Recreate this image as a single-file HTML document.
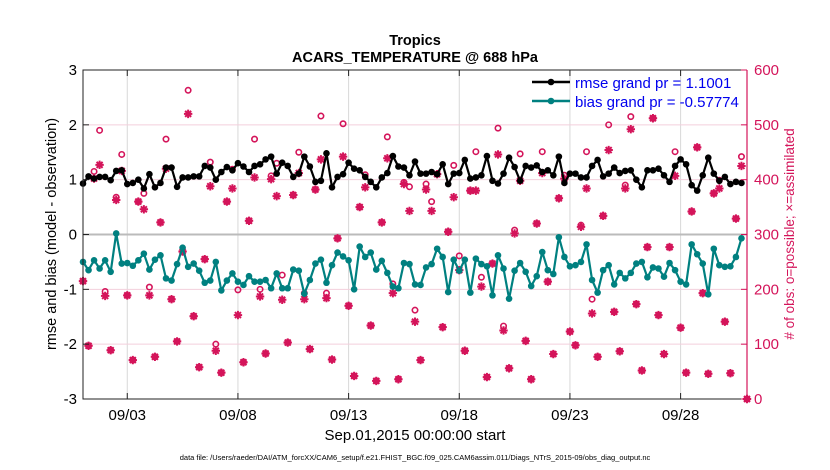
<!DOCTYPE html>
<html><head><meta charset="utf-8"><style>
html,body{margin:0;padding:0;background:#fff;}
svg{display:block;font-family:"Liberation Sans",Arial,sans-serif;}
</style></head><body>
<svg id="chart" width="830" height="470" viewBox="0 0 830 470">
<rect width="830" height="470" fill="#fff"/>
<text x="415" y="45" text-anchor="middle" font-size="14.5" font-weight="bold">Tropics</text>
<text x="415" y="62" text-anchor="middle" font-size="14.5" font-weight="bold">ACARS_TEMPERATURE @ 688 hPa</text>
<g id="grid"></g>
<g id="marks"></g>
<g id="axes"></g>
<text x="415" y="440" text-anchor="middle" font-size="15">Sep.01,2015 00:00:00 start</text>
<text x="415" y="460" text-anchor="middle" font-size="7.5">data file: /Users/raeder/DAI/ATM_forcXX/CAM6_setup/f.e21.FHIST_BGC.f09_025.CAM6assim.011/Diags_NTrS_2015-09/obs_diag_output.nc</text>
<text transform="translate(56,234) rotate(-90)" text-anchor="middle" font-size="14.5">rmse and bias (model - observation)</text>
<text transform="translate(794,234) rotate(-90)" text-anchor="middle" font-size="13.5" fill="#d4145a"># of obs: o=possible; ×=assimilated</text>
<g>
<line x1="532" y1="82" x2="570" y2="82" stroke="#000" stroke-width="2.5"/>
<circle cx="551" cy="82" r="3.3" fill="#000"/>
<text x="575" y="88" font-size="15" fill="#0000ee">rmse grand pr = 1.1001</text>
<line x1="532" y1="101" x2="570" y2="101" stroke="#008080" stroke-width="2.5"/>
<circle cx="551" cy="101" r="3.3" fill="#008080"/>
<text x="575" y="107" font-size="15" fill="#0000ee">bias grand pr = -0.57774</text>
</g>
</svg>
<script>
const rmse=[0.93,1.06,1.02,1.05,1.05,0.99,1.16,1.17,0.92,0.94,
1.0,0.84,1.1,0.86,0.94,1.22,1.22,0.87,1.04,1.04,
1.06,1.06,1.25,1.22,1.0,1.14,1.23,1.17,1.3,1.24,
1.14,1.25,1.28,1.37,1.42,1.11,1.31,1.25,1.05,1.11,
1.42,1.24,0.96,0.98,1.48,0.86,1.05,1.10,1.31,1.20,
1.17,1.05,0.96,0.86,1.04,1.12,1.43,1.24,1.22,1.08,
1.33,1.11,1.11,1.14,1.10,1.28,0.92,1.11,1.12,1.36,
1.02,1.04,1.08,1.43,0.98,0.93,1.11,1.40,1.23,0.98,
1.25,1.22,1.26,1.14,1.17,1.08,1.42,0.94,1.11,1.11,
1.04,1.04,1.25,1.36,1.06,1.11,1.22,1.12,1.16,1.17,
1.00,0.86,1.17,1.17,1.20,1.08,0.96,1.25,1.37,1.28,
0.90,0.80,1.08,1.40,1.11,0.98,1.05,0.92,0.96,0.94];
const bias=[-0.50,-0.65,-0.47,-0.62,-0.47,-0.68,0.02,-0.53,-0.52,-0.57,
-0.47,-0.35,-0.64,-0.46,-0.38,-0.80,-0.84,-0.54,-0.24,-0.59,
-0.53,-0.66,-0.88,-0.84,-0.50,-1.02,-0.84,-0.71,-0.86,-0.92,
-0.76,-0.86,-0.86,-0.83,-0.98,-0.71,-0.98,-0.98,-0.64,-0.66,
-1.08,-0.83,-0.53,-0.46,-0.88,-0.56,-0.33,-0.40,-0.47,-1.00,
-0.22,-0.41,-0.33,-0.64,-0.48,-0.70,-0.95,-0.98,-0.52,-0.54,
-0.91,-0.92,-0.60,-0.54,-0.26,-0.41,-1.05,-0.46,-0.66,-0.46,
-1.06,-0.44,-0.54,-0.58,-1.11,-0.38,-0.62,-1.17,-0.66,-0.52,
-0.68,-0.94,-0.76,-0.32,-0.65,-0.72,-0.05,-0.41,-0.58,-0.56,
-0.50,-0.18,-0.83,-1.06,-0.65,-0.56,-0.91,-0.70,-0.80,-0.70,
-0.53,-0.50,-0.78,-0.60,-0.62,-0.77,-0.52,-0.65,-0.86,-0.91,
-0.18,-0.36,-0.53,-1.09,-0.26,-0.56,-0.59,-0.58,-0.41,-0.07];
const assimilated=[215,97,402,427,188,89,363,416,189,71,
360,346,189,77,322,420,182,105,269,520,
151,58,255,388,88,48,360,384,153,67,
325,404,187,83,401,370,181,103,372,412,
182,91,382,437,184,72,293,442,170,42,
350,386,134,33,322,439,193,36,392,343,
141,71,382,343,410,131,305,368,235,88,
380,380,205,40,247,446,125,56,302,398,
106,36,320,412,214,82,366,402,123,98,
314,384,156,77,334,454,159,87,384,492,
173,52,277,512,153,82,277,407,130,48,
342,459,193,46,375,384,141,47,329,425,0];
const possible=[215,97,415,490,196,89,368,446,189,71,
360,375,204,77,322,474,182,105,269,563,
151,58,255,432,100,48,360,419,199,67,
325,474,200,83,407,430,226,103,372,450,
193,91,382,516,193,72,293,502,170,42,
350,409,134,33,322,478,210,36,395,387,
162,71,392,360,410,131,305,426,261,88,
380,451,222,40,247,494,133,56,308,447,
106,36,320,451,214,82,366,408,123,98,
317,451,182,77,334,500,159,87,390,515,
173,52,277,512,153,82,277,451,130,48,
342,459,193,46,375,399,141,47,329,442,0];
const xTickDays=[2,7,12,17,22,27];
const xTickLabels=["09/03","09/08","09/13","09/18","09/23","09/28"];
const yLeftTicks=[3,2,1,0,-1,-2,-3];
const yRightTicks=[600,500,400,300,200,100,0];

const L=83,R=747,T=70,B=399;
const NS="http://www.w3.org/2000/svg";
const xScale=d=>L+(R-L)*d/30;
const xSlot=i=>xScale(i*0.25);
const yLeft=v=>T+(B-T)*(3-v)/6;
const yRight=v=>B-(B-T)*v/600;
function mk(tag,attrs,parent){const e=document.createElementNS(NS,tag);for(const k in attrs)e.setAttribute(k,attrs[k]);parent.appendChild(e);return e;}
const grid=document.getElementById('grid'),marks=document.getElementById('marks'),axes=document.getElementById('axes');

xTickDays.forEach(d=>{const l=mk('line',{x1:xScale(d),x2:xScale(d),y1:T,y2:B,stroke:'#d8d8d8','stroke-width':1},grid);

});
yRightTicks.forEach(v=>{if(v===0||v===600)return;const l=mk('line',{x1:L,x2:R,y1:yRight(v),y2:yRight(v),stroke:v===300?'#bbbbbb':'#f3cfdc','stroke-width':v===300?2:1},grid);

});

const red='#d4145a';
possible.forEach((v,i)=>{const c=mk('circle',{cx:xSlot(i),cy:yRight(v),r:2.7,fill:'none',stroke:red,'stroke-width':1.6},marks);

});
assimilated.forEach((v,i)=>{const x=xSlot(i),y=yRight(v),s=4.2,d=3;
const p=mk('path',{d:`M${x-s},${y}H${x+s}M${x},${y-s}V${y+s}M${x-d},${y-d}L${x+d},${y+d}M${x-d},${y+d}L${x+d},${y-d}`,stroke:red,'stroke-width':2,fill:'none'},marks);

});

function series(arr,color,name){
 const pts=arr.map((v,i)=>xSlot(i).toFixed(1)+','+yLeft(v).toFixed(1)).join(' ');
 const pl=mk('polyline',{points:pts,fill:'none',stroke:color,'stroke-width':2.2,'stroke-linejoin':'round'},marks);
 
 
 arr.forEach((v,i)=>{const c=mk('circle',{cx:xSlot(i),cy:yLeft(v),r:3.3,fill:color},marks);
 
 });
}
series(rmse,'#000','rmse');
series(bias,'#008080','bias');

const fr=mk('path',{d:`M${R},${T}H${L}V${B}H${R}`,fill:'none',stroke:'#222','stroke-width':1},axes);


const ra=mk('line',{x1:R,x2:R,y1:T,y2:B,stroke:red,'stroke-width':1.2},axes);



xTickDays.forEach((d,i)=>{const x=xScale(d);
mk('line',{x1:x,x2:x,y1:B,y2:B-6,stroke:'#222'},axes);
mk('line',{x1:x,x2:x,y1:T,y2:T+6,stroke:'#222'},axes);
const t=mk('text',{x:x,y:420,'text-anchor':'middle','font-size':15},axes);t.textContent=xTickLabels[i];

});
yLeftTicks.forEach(v=>{const y=yLeft(v);
mk('line',{x1:L,x2:L+6,y1:y,y2:y,stroke:'#222'},axes);
const t=mk('text',{x:L-6,y:y+5,'text-anchor':'end','font-size':15},axes);t.textContent=v;

});
yRightTicks.forEach(v=>{const y=yRight(v);
mk('line',{x1:R,x2:R-6,y1:y,y2:y,stroke:red},axes);
const t=mk('text',{x:R+7,y:y+5,'text-anchor':'start','font-size':15,fill:red},axes);t.textContent=v;

});
</script>
</body></html>
